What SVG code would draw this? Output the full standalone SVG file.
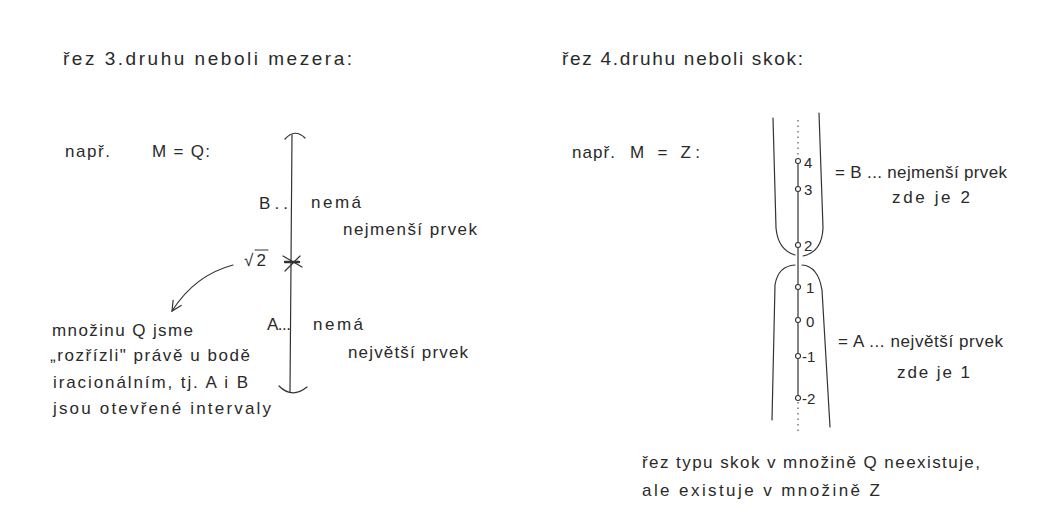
<svg xmlns="http://www.w3.org/2000/svg" width="1052" height="508" viewBox="0 0 1052 508">
<style>
text{font-family:"Liberation Sans","DejaVu Sans",sans-serif;fill:#2a2a2a;font-size:17px}
.t{font-size:19px}
.n{font-size:15px}
.s{fill:none;stroke:#333;stroke-width:1.2;stroke-linecap:round;stroke-linejoin:round}
.d{fill:none;stroke:#555;stroke-width:1.2;stroke-dasharray:1.5 4}
.p{fill:#fff;stroke:#333;stroke-width:1.1}
</style>
<defs>
<marker id="ah" viewBox="0 0 12 12" refX="11" refY="6" markerWidth="12" markerHeight="12" markerUnits="userSpaceOnUse" orient="auto">
<path d="M1 1 L11 6 L1 11" fill="none" stroke="#333" stroke-width="1.2"/>
</marker>
</defs>
<rect width="1052" height="508" fill="#fff"/>

<g id="left">
<text class="t" x="63" y="65" textLength="289" lengthAdjust="spacing">řez 3.druhu neboli mezera:</text>
<text x="65" y="157" textLength="45" lengthAdjust="spacing">např.</text>
<text x="152" y="157" textLength="58" lengthAdjust="spacing">M = Q:</text>
<g id="cut3">
<path class="s" d="M292 135 L290 392"/>
<path class="s" d="M285 139 Q295 128 305 138"/>
<path class="s" d="M279 386 Q292 399 307 387"/>
<path class="s" d="M283 256 L302 267 M285 271 L300 256"/>
<path d="M285 262 L299 262" stroke="#333" stroke-width="2.4" stroke-linecap="round"/>
</g>
<text x="259" y="209" textLength="29" lengthAdjust="spacing">B..</text>
<text x="311" y="208" textLength="50" lengthAdjust="spacing">nemá</text>
<text x="343" y="235" textLength="134" lengthAdjust="spacing">nejmenší prvek</text>
<text x="244" y="266" textLength="22" lengthAdjust="spacing">√2</text>
<line class="s" x1="255" y1="250" x2="268" y2="250"/>
<text x="267" y="330" textLength="24" lengthAdjust="spacing">A...</text>
<text x="313" y="330" textLength="50" lengthAdjust="spacing">nemá</text>
<text x="348" y="358" textLength="120" lengthAdjust="spacing">největší prvek</text>
<text x="52" y="336" textLength="141" lengthAdjust="spacing">množinu Q jsme</text>
<text x="50" y="361" textLength="200" lengthAdjust="spacing">„rozřízli" právě u bodě</text>
<text x="53" y="388" textLength="195" lengthAdjust="spacing">iracionálním, tj. A i B</text>
<text x="53" y="414" textLength="218" lengthAdjust="spacing">jsou otevřené intervaly</text>
</g>

<g id="connectors">
<path class="s" d="M233 265 Q195 275 172 311" marker-end="url(#ah)"/>
</g>

<g id="right">
<text class="t" x="562" y="65" textLength="241" lengthAdjust="spacing">řez 4.druhu neboli skok:</text>
<text x="572" y="158" textLength="43" lengthAdjust="spacing">např.</text>
<text x="630" y="158" textLength="70" lengthAdjust="spacing">M = Z:</text>
<g id="axis">
<line class="d" x1="798" y1="120" x2="798" y2="158"/>
<line class="s" x1="798" y1="161" x2="798" y2="398"/>
<line class="d" x1="798" y1="402" x2="798" y2="434"/>
<circle class="p" cx="798" cy="161" r="2.5"/>
<circle class="p" cx="798" cy="189" r="2.5"/>
<circle class="p" cx="798" cy="245" r="2.5"/>
<circle class="p" cx="798" cy="287" r="2.5"/>
<circle class="p" cx="798" cy="320" r="2.5"/>
<circle class="p" cx="798" cy="356" r="2.5"/>
<circle class="p" cx="798" cy="398" r="2.5"/>
<text class="n" x="804" y="168">4</text>
<text class="n" x="804" y="195">3</text>
<text class="n" x="804" y="251">2</text>
<text class="n" x="806" y="293">1</text>
<text class="n" x="806" y="327">0</text>
<text class="n" x="802" y="362">-1</text>
<text class="n" x="802" y="404">-2</text>
</g>
<g id="setB">
<path class="s" d="M773 118 L776 228 Q778 250 795 255"/>
<path class="s" d="M819 113 L823 228 Q822 252 803 256"/>
</g>
<g id="setA">
<path class="s" d="M795 265 Q778 266 775 285 L772 420"/>
<path class="s" d="M802 265 Q818 266 822 290 L830 427"/>
</g>
<text x="835" y="178" textLength="172" lengthAdjust="spacing">= B ... nejmenší prvek</text>
<text x="892" y="203" textLength="78" lengthAdjust="spacing">zde je 2</text>
<text x="838" y="347" textLength="165" lengthAdjust="spacing">= A ... největší prvek</text>
<text x="897" y="378" textLength="73" lengthAdjust="spacing">zde je 1</text>
<text x="642" y="468" textLength="338" lengthAdjust="spacing">řez typu skok v množině Q neexistuje,</text>
<text x="642" y="496" textLength="238" lengthAdjust="spacing">ale existuje v množině Z</text>
</g>
</svg>
